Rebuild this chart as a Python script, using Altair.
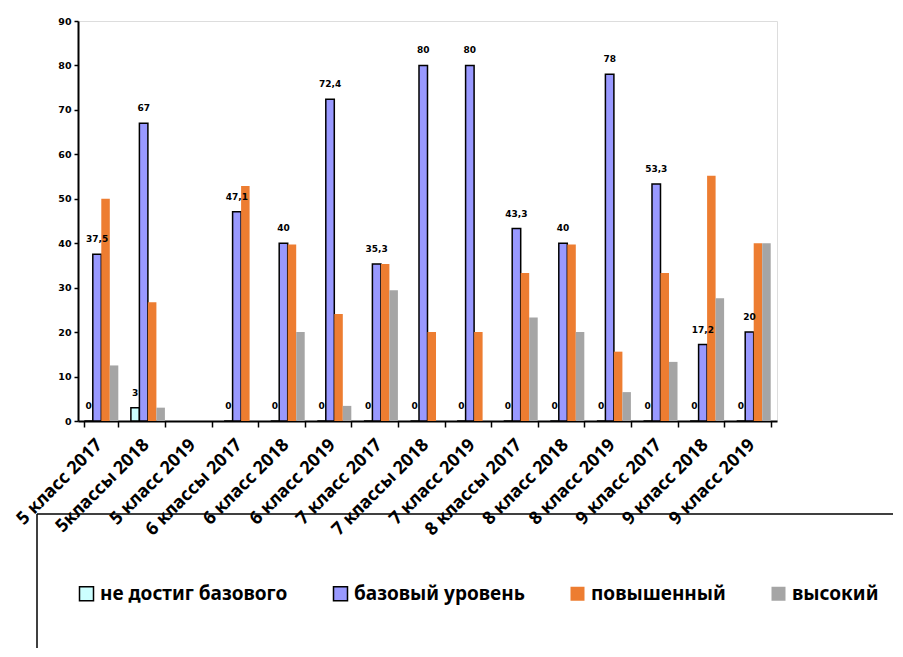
import altair as alt
import pandas as pd

categories = ["5 класс 2017", "5классы 2018", "5 класс 2019", "6 классы 2017", "6 класс 2018",
              "6 класс 2019", "7 класс 2017", "7 классы 2018", "7 класс 2019", "8 классы 2017",
              "8 класс 2018", "8 класс 2019", "9 класс 2017", "9 класс 2018", "9 класс 2019"]
series = ["не достиг базового", "базовый уровень", "повышенный", "высокий"]
colors = ["#CCFFFF", "#9999FF", "#ED7D31", "#A5A5A5"]
strokes = ["#000000", "#000000", "transparent", "transparent"]

ne_dostig = [0, 3, None, 0, 0, 0, 0, 0, 0, 0, 0, 0, 0, 0, 0]
bazovyi = [37.5, 67, None, 47.1, 40, 72.4, 35.3, 80, 80, 43.3, 40, 78, 53.3, 17.2, 20]
povyshennyi = [50, 26.7, None, 52.9, 39.7, 24.1, 35.3, 20, 20, 33.3, 39.7, 15.6, 33.3, 55.2, 40]
vysokii = [12.5, 3, None, None, 20, 3.4, 29.4, None, None, 23.3, 20, 6.5, 13.3, 27.6, 40]

values = [ne_dostig, bazovyi, povyshennyi, vysokii]
rows = []
for s, vals in zip(series, values):
    for c, v in zip(categories, vals):
        rows.append({"cat": c, "series": s, "value": v})
df = pd.DataFrame(rows)

lab = df[df["series"].isin(series[:2]) & df["value"].notna()].copy()
lab["label"] = lab["value"].apply(lambda v: (f"{v:g}").replace(".", ","))

x_enc = alt.X("cat:N", sort=categories,
              scale=alt.Scale(domain=categories, paddingInner=0.27, paddingOuter=0.135),
              axis=alt.Axis(title=None, labelAngle=-45, labelAlign="right", labelBaseline="middle",
                            labelFont="Noto Sans", labelFontSize=18, labelFontWeight="bold",
                            labelColor="#000000", labelPadding=15, labelOffset=-2, tickBand="extent",
                            tickColor="#000000", tickSize=6, tickWidth=1.5,
                            domainColor="#000000", domainWidth=2, labelOverlap=False, labelLimit=0))
xo_enc = alt.XOffset("series:N", sort=series, scale=alt.Scale(domain=series, paddingInner=0, paddingOuter=0))
leg = alt.Legend(title=None, orient="none", legendX=-1, legendY=563, direction="horizontal",
                 columns=4, symbolType="square", symbolSize=196, symbolStrokeWidth=1.5,
                 labelFont="Noto Sans", labelFontSize=19, labelFontWeight="bold", labelColor="#000000",
                 columnPadding=42, labelOffset=4, padding=0, labelLimit=0)

bars = alt.Chart(df).mark_bar(strokeWidth=1.5).encode(
    x=x_enc,
    xOffset=xo_enc,
    y=alt.Y("value:Q", scale=alt.Scale(domain=[0, 90], nice=False),
            axis=alt.Axis(title=None, values=list(range(0, 91, 10)), grid=False,
                          labelFont="DejaVu Sans", labelFontSize=9.5, labelFontWeight="bold",
                          labelColor="#000000", labelPadding=3, tickColor="#000000", tickSize=4,
                          tickWidth=1.5, domainColor="#000000", domainWidth=2)),
    fill=alt.Fill("series:N", sort=series, scale=alt.Scale(domain=series, range=colors), legend=leg),
    stroke=alt.Stroke("series:N", sort=series, scale=alt.Scale(domain=series, range=strokes), legend=leg),
)

texts = alt.Chart(lab).mark_text(font="DejaVu Sans", fontSize=9, fontWeight="bold",
                                 baseline="bottom", dy=-10, color="#000000").encode(
    x=alt.X("cat:N", sort=categories),
    xOffset=alt.XOffset("series:N", sort=series),
    y="value:Q",
    text="label:N",
)

frame = pd.DataFrame({"k": [0]})
hline = alt.Chart(frame).mark_rule(color="#000000", strokeWidth=1.5).encode(
    x=alt.value(-41), x2=alt.value(900), y=alt.value(493))
vline = alt.Chart(frame).mark_rule(color="#000000", strokeWidth=1.5).encode(
    x=alt.value(-41), y=alt.value(493), y2=alt.value(700))

chart = alt.layer(bars, texts, hline, vline).properties(
    width=699, height=400,
    autosize=alt.AutoSizeParams(type="none"),
    padding={"left": 70, "top": 13, "right": 116, "bottom": 227},
).configure_view(stroke="#808080", strokeWidth=2).configure(background="white")

chart.save("out.html", embed_options={"renderer": "svg", "actions": False})
